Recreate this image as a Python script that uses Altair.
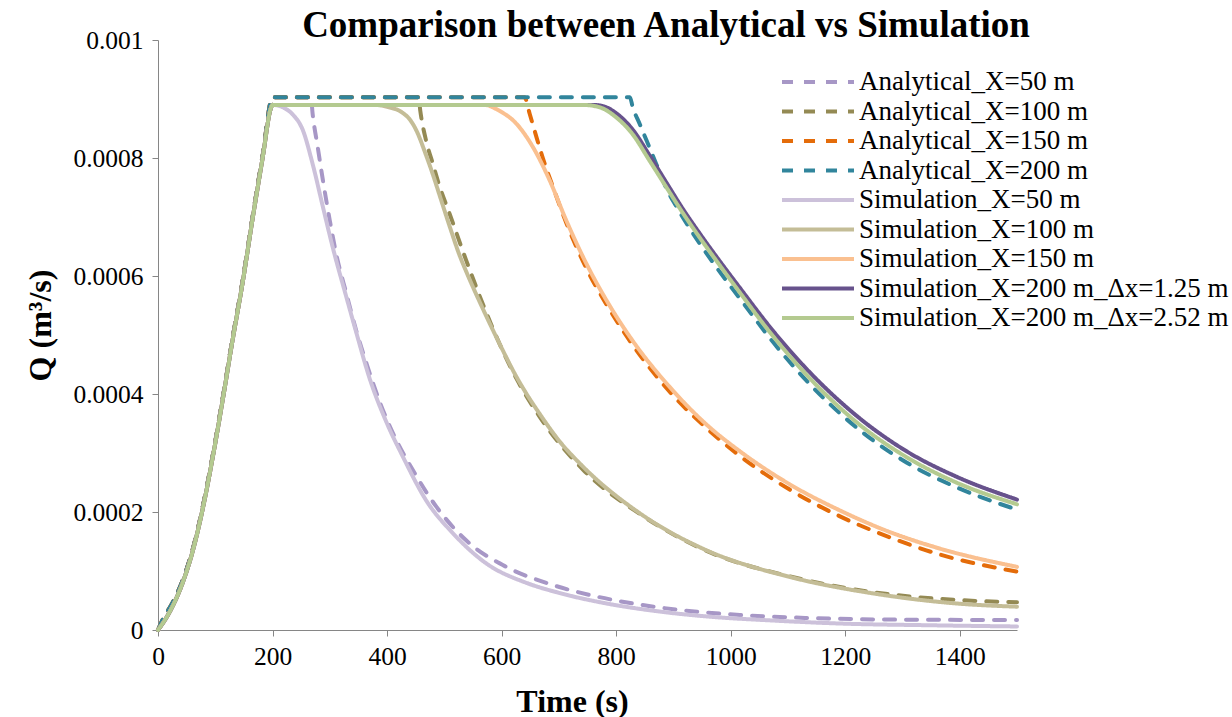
import altair as alt
import pandas as pd

# values in units of 1e-4 m^3/s
SCALE = 1e-4

title_text = "Comparison between Analytical vs Simulation"
series_names = [
    "Analytical_X=50 m", "Analytical_X=100 m", "Analytical_X=150 m", "Analytical_X=200 m",
    "Simulation_X=50 m", "Simulation_X=100 m", "Simulation_X=150 m",
    "Simulation_X=200 m_\u0394x=1.25 m", "Simulation_X=200 m_\u0394x=2.52 m",
]
colors = ["#A797C6", "#948A54", "#E46C0A", "#31859C",
          "#CCC1DA", "#C4BD97", "#FAC090", "#67528C", "#B4CA90"]
x_ticks = [0, 200, 400, 600, 800, 1000, 1200, 1400]
y_ticks = [0, 0.0002, 0.0004, 0.0006, 0.0008, 0.001]

# rising limb (shared)
rise_t_ana = [0, 9, 26, 46, 61, 78, 96, 113, 130, 148, 165, 183, 200]
rise_v_ana = [0, 0.19, 0.47, 0.92, 1.38, 2.08, 2.98, 3.93, 4.93, 5.93, 6.99, 8.06, 9.03]
rise_t_sim = [0, 20, 43, 61, 78, 96, 113, 130, 148, 165, 183, 197, 200]
rise_v_sim = [0, 0.30, 0.80, 1.35, 2.05, 2.95, 3.90, 4.90, 5.90, 6.96, 8.02, 8.84, 8.90]

# falling limbs
a50_t = [267, 270, 279, 288, 300, 311, 329, 346, 364, 387, 416, 445, 486, 538, 608, 684, 760, 829, 920, 1016, 1130, 1249, 1370, 1500]
a50_v = [9.03, 8.75, 8.18, 7.62, 6.94, 6.38, 5.70, 5.08, 4.52, 3.87, 3.22, 2.71, 2.09, 1.52, 1.07, 0.78, 0.58, 0.45, 0.33, 0.255, 0.205, 0.18, 0.172, 0.17]
a100_t = [455, 458, 468, 480, 492, 509, 538, 567, 596, 626, 666, 742, 841, 958, 1103, 1249, 1394, 1500]
a100_v = [9.03, 8.80, 8.30, 7.90, 7.51, 7.06, 6.27, 5.53, 4.86, 4.26, 3.62, 2.72, 1.97, 1.34, 0.91, 0.64, 0.51, 0.47]
a150_t = [640, 649, 661, 672, 690, 713, 748, 783, 829, 899, 958, 1016, 1103, 1190, 1278, 1365, 1500]
a150_v = [9.03, 8.75, 8.35, 8.00, 7.50, 6.90, 6.13, 5.52, 4.83, 3.98, 3.42, 2.95, 2.38, 1.93, 1.57, 1.28, 0.99]
a200_t = [824, 829, 841, 853, 870, 888, 905, 946, 975, 1016, 1074, 1132, 1220, 1307, 1394, 1500]
a200_v = [9.03, 8.86, 8.58, 8.30, 7.90, 7.48, 7.18, 6.55, 6.15, 5.62, 4.88, 4.23, 3.43, 2.84, 2.42, 2.04]

s50_t = [220, 235, 253, 270, 288, 305, 329, 346, 369, 399, 428, 468, 515, 573, 643, 700, 783, 870, 958, 1075, 1190, 1350, 1500]
s50_v = [8.85, 8.74, 8.47, 7.90, 7.17, 6.49, 5.64, 5.05, 4.28, 3.52, 2.93, 2.20, 1.64, 1.13, 0.80, 0.63, 0.45, 0.32, 0.23, 0.16, 0.11, 0.08, 0.06]
s100_t = [380, 399, 428, 440, 451, 468, 480, 492, 509, 527, 538, 567, 596, 626, 643, 666, 701, 742, 841, 958, 1103, 1249, 1394, 1500]
s100_v = [8.90, 8.87, 8.76, 8.65, 8.47, 8.05, 7.72, 7.36, 6.85, 6.34, 6.08, 5.45, 4.86, 4.29, 4.01, 3.67, 3.20, 2.77, 1.98, 1.35, 0.90, 0.62, 0.45, 0.395]
s150_t = [570, 596, 626, 655, 684, 713, 748, 783, 829, 899, 958, 1016, 1103, 1190, 1278, 1365, 1500]
s150_v = [8.90, 8.80, 8.58, 8.18, 7.62, 6.94, 6.21, 5.59, 4.90, 4.06, 3.48, 3.03, 2.47, 2.03, 1.66, 1.38, 1.07]
s200a_t = [760, 780, 800, 829, 858, 888, 917, 946, 975, 1016, 1074, 1132, 1220, 1307, 1394, 1500]
s200a_v = [8.90, 8.87, 8.76, 8.48, 8.05, 7.58, 7.13, 6.72, 6.33, 5.80, 5.07, 4.43, 3.63, 3.03, 2.60, 2.21]
s200b_t = [742, 771, 800, 829, 858, 888, 917, 946, 975, 1016, 1074, 1132, 1220, 1307, 1394, 1500]
s200b_v = [8.90, 8.86, 8.69, 8.40, 7.96, 7.50, 7.06, 6.65, 6.26, 5.72, 4.98, 4.33, 3.52, 2.93, 2.50, 2.13]

falls = [(a50_t, a50_v), (a100_t, a100_v), (a150_t, a150_v), (a200_t, a200_v),
         (s50_t, s50_v), (s100_t, s100_v), (s150_t, s150_v), (s200a_t, s200a_v), (s200b_t, s200b_v)]

rows = []
for i, (name, (ft, fv)) in enumerate(zip(series_names, falls)):
    if i < 4:
        rt, rv = rise_t_ana, rise_v_ana
    else:
        rt, rv = rise_t_sim, rise_v_sim
    k = 0
    for t, v in zip(rt + ft, rv + fv):
        rows.append({"series": name, "t": t, "q": v * SCALE, "k": k, "ord": i})
        k += 1
df = pd.DataFrame(rows)

dashes = [[11, 11]] * 4 + [[1, 0]] * 5
widths = [4] * 4 + [5] * 5

FONT = "Liberation Serif, Times New Roman, DejaVu Serif, serif"

lines = alt.Chart(df).mark_line(interpolate="monotone", strokeCap="round", strokeJoin="round").encode(
    x=alt.X("t:Q", scale=alt.Scale(domain=[0, 1500], nice=False, zero=False),
            axis=alt.Axis(title="Time (s)", values=x_ticks, format="d",
                          titleX=414, titleY=81, titleBaseline="alphabetic", titleAlign="center",
                          titleFontSize=32, titleFont=FONT, titleFontWeight="bold", titleColor="black",
                          labelFont=FONT, labelFontSize=25.5, labelColor="black", labelPadding=8,
                          domainColor="#868686", tickColor="#868686", tickSize=6, grid=False,
                          labelFlush=False)),
    y=alt.Y("q:Q", scale=alt.Scale(domain=[0, 0.001], nice=False),
            axis=alt.Axis(title="Q (m\u00b3/s)", values=y_ticks,
                          labelExpr="datum.value == 0 ? '0' : format(datum.value, '.4~f')",
                          titleX=-118, titleY=285, titleBaseline="middle", titleAlign="center", titleAngle=-90,
                          titleFontSize=32, titleFont=FONT, titleFontWeight="bold", titleColor="black",
                          labelFont=FONT, labelFontSize=25.5, labelColor="black", labelPadding=9,
                          domainColor="#868686", tickColor="#868686", tickSize=6, grid=False)),
    color=alt.Color("series:N", scale=alt.Scale(domain=series_names, range=colors),
                    sort=series_names,
                    legend=alt.Legend(title=None, orient="none", legendX=622, legendY=29,
                                      labelFont=FONT, labelFontSize=27, labelColor="black",
                                      labelLimit=600, labelOffset=3, symbolType="stroke",
                                      symbolSize=5184, clipHeight=26, rowPadding=2.5, padding=0)),
    strokeDash=alt.StrokeDash("series:N", scale=alt.Scale(domain=series_names, range=dashes),
                              sort=series_names, legend=None),
    strokeWidth=alt.StrokeWidth("series:N", scale=alt.Scale(domain=series_names, range=widths),
                                sort=series_names, legend=None),
    order=alt.Order("k:Q"),
    detail="ord:O",
)

title_layer = alt.Chart(pd.DataFrame({"title": [title_text]})).mark_text(
    font=FONT, fontSize=37, fontWeight="bold", color="black", align="center", baseline="alphabetic"
).encode(x=alt.value(508), y=alt.value(-3), text="title:N")

chart = alt.layer(lines, title_layer).properties(
    width=859, height=590,
    padding={"left": 158, "top": 40, "right": 215, "bottom": 87},
    autosize=alt.AutoSizeParams(type="none"),
).configure(background="white", font=FONT).configure_view(stroke=None).configure_axis(
    labelFont=FONT, titleFont=FONT).configure_legend(labelFont=FONT)

chart.save("out.html", embed_options={"renderer": "svg", "actions": False})
